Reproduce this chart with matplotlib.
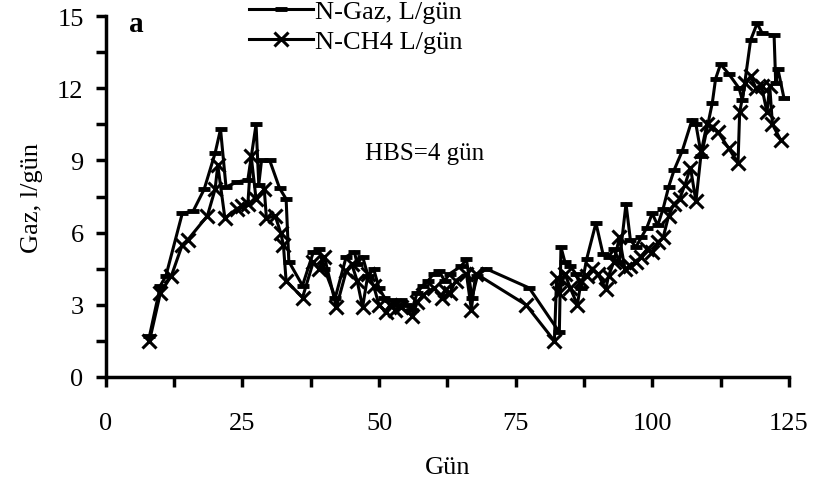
import matplotlib
matplotlib.use("Agg")
import matplotlib.pyplot as plt
from matplotlib.ticker import MultipleLocator

plt.rcParams['font.family'] = ['Liberation Serif', 'DejaVu Serif']

# N-Gaz, L/gün
gaz_gun = [8, 10, 11, 14, 16, 18, 20, 21, 22, 24, 26, 27.5, 28, 28.5, 30, 31.8, 33,
           33.5, 36, 38, 39, 40, 42, 44, 45.5, 46, 47, 48, 49, 50, 51, 52, 53, 54,
           55, 56, 57, 58, 59, 60, 61, 62, 63, 65, 66, 67, 68, 69.6, 77.5, 83,
           83.3, 84, 85, 86, 87, 88, 89.7, 91, 92, 93, 94, 95.2, 96, 97, 98, 99,
           100, 101, 102, 103, 104, 105.5, 107.3, 108, 109, 111, 111.6, 112.5, 114,
           115.9, 116.5, 118, 119.2, 120.1, 122.3, 122.6, 123, 124.1]
gaz = [1.7, 3.8, 4.2, 6.8, 6.9, 7.8, 9.3, 10.3, 7.9, 8.1, 8.2, 10.5, 8.0, 9.0, 9.0,
       7.85, 7.4, 4.8, 3.8, 5.2, 5.3, 4.5, 3.3, 5.0, 5.2, 4.7, 5.0, 4.2, 4.5, 3.7,
       3.3, 3.2, 3.0, 3.2, 3.0, 2.8, 3.5, 3.8, 4.0, 4.3, 4.4, 4.0, 4.3, 4.6, 4.9,
       3.3, 4.2, 4.5, 3.7, 1.86, 5.4, 4.8, 4.6, 4.3, 3.7, 4.9, 6.4, 5.1, 5.0, 5.3,
       4.8, 7.2, 5.7, 5.4, 5.8, 6.2, 6.8, 6.3, 7.0, 7.9, 8.6, 9.4, 10.7, 10.5, 9.2,
       11.4, 12.4, 13.0, 12.6, 12.0, 11.5, 14.0, 14.7, 14.3, 14.2, 12.2, 12.8, 11.6]

# N-CH4 L/gün
ch4_gun = [8, 10, 12, 14, 15, 18.6, 20, 20.5, 21.8, 24, 25, 26, 26.6, 27.5, 29, 29.4,
           31, 32, 32.5, 33, 36, 38, 39, 40, 42.2, 44, 45, 46, 47, 48, 49, 50, 51.3,
           52, 53, 54, 56.1, 57, 58, 60, 61.6, 62, 63, 64, 66, 66.9, 67.7, 76.9,
           82.1, 82.5, 83, 84, 85, 86.3, 87, 88, 89, 90, 91.5, 92, 93, 94, 95, 96,
           97, 98, 99, 100, 101, 102, 103, 104, 105, 106, 107, 108, 109, 110, 111,
           112, 114, 115.7, 116, 117, 118, 119, 120, 121, 121.5, 122, 123.5]
ch4 = [1.5, 3.5, 4.2, 5.5, 5.7, 6.7, 7.8, 8.8, 6.6, 7.0, 7.1, 7.2, 9.2, 7.4, 7.8,
       6.6, 6.7, 6.0, 5.5, 4.0, 3.3, 4.8, 4.5, 5.0, 2.9, 4.4, 4.7, 4.0, 2.9, 4.3,
       3.8, 3.0, 2.7, 3.0, 2.8, 2.9, 2.55, 3.1, 3.4, 3.7, 3.3, 3.6, 3.5, 4.0, 4.3,
       2.8, 4.3, 3.0, 1.5, 4.1, 3.5, 4.3, 3.7, 3.0, 4.0, 4.2, 4.5, 4.3, 3.65, 4.2,
       4.8, 5.8, 4.5, 4.6, 4.8, 5.0, 5.3, 5.2, 5.6, 5.8, 6.7, 7.2, 7.4, 8.0, 8.7,
       7.3, 9.4, 10.5, 10.4, 10.2, 9.5, 8.9, 11.0, 12.2, 12.5, 12.0, 12.1, 11.0,
       12.1, 10.5, 9.85]

fig = plt.figure(figsize=(8.2, 4.89), dpi=100)
ax = fig.add_axes([0.129, 0.227, 0.833, 0.738])

ax.plot(gaz_gun, gaz, color='black', lw=2.2, marker='_', ms=9, mew=3.5,
        label='N-Gaz, L/gün')
ax.plot(ch4_gun, ch4, color='black', lw=2.2, marker='x', ms=10, mew=2.2,
        label='N-CH4 L/gün')

ax.set_xlim(0, 125)
ax.set_ylim(0, 15)
ax.xaxis.set_major_locator(MultipleLocator(25))
ax.xaxis.set_minor_locator(MultipleLocator(12.5))
ax.yaxis.set_major_locator(MultipleLocator(3))
ax.yaxis.set_minor_locator(MultipleLocator(1.5))
ax.spines['top'].set_visible(False)
ax.spines['right'].set_visible(False)
ax.spines['left'].set_linewidth(2.5)
ax.spines['bottom'].set_linewidth(2.5)
ax.tick_params(which='both', direction='out', width=2.5, length=7, labelsize=19)
ax.tick_params(axis='x', which='major', pad=18)
ax.tick_params(axis='y', which='major', pad=9)

ax.set_xlabel('Gün', fontsize=19, labelpad=16)
ax.set_ylabel('Gaz, l/gün', fontsize=19, labelpad=10)

ax.text(5.5, 14.7, 'a', fontsize=21, fontweight='bold', ha='center', va='center')
ax.text(58.3, 9.3, 'HBS=4 gün', fontsize=18, ha='center', va='center')

ax.legend(loc='upper left', bbox_to_anchor=(0.21, 1.045), frameon=False,
          fontsize=19, borderaxespad=0, borderpad=0, handlelength=2.4,
          handletextpad=0.1, labelspacing=0.25)

fig.savefig('out.png', dpi=100)
